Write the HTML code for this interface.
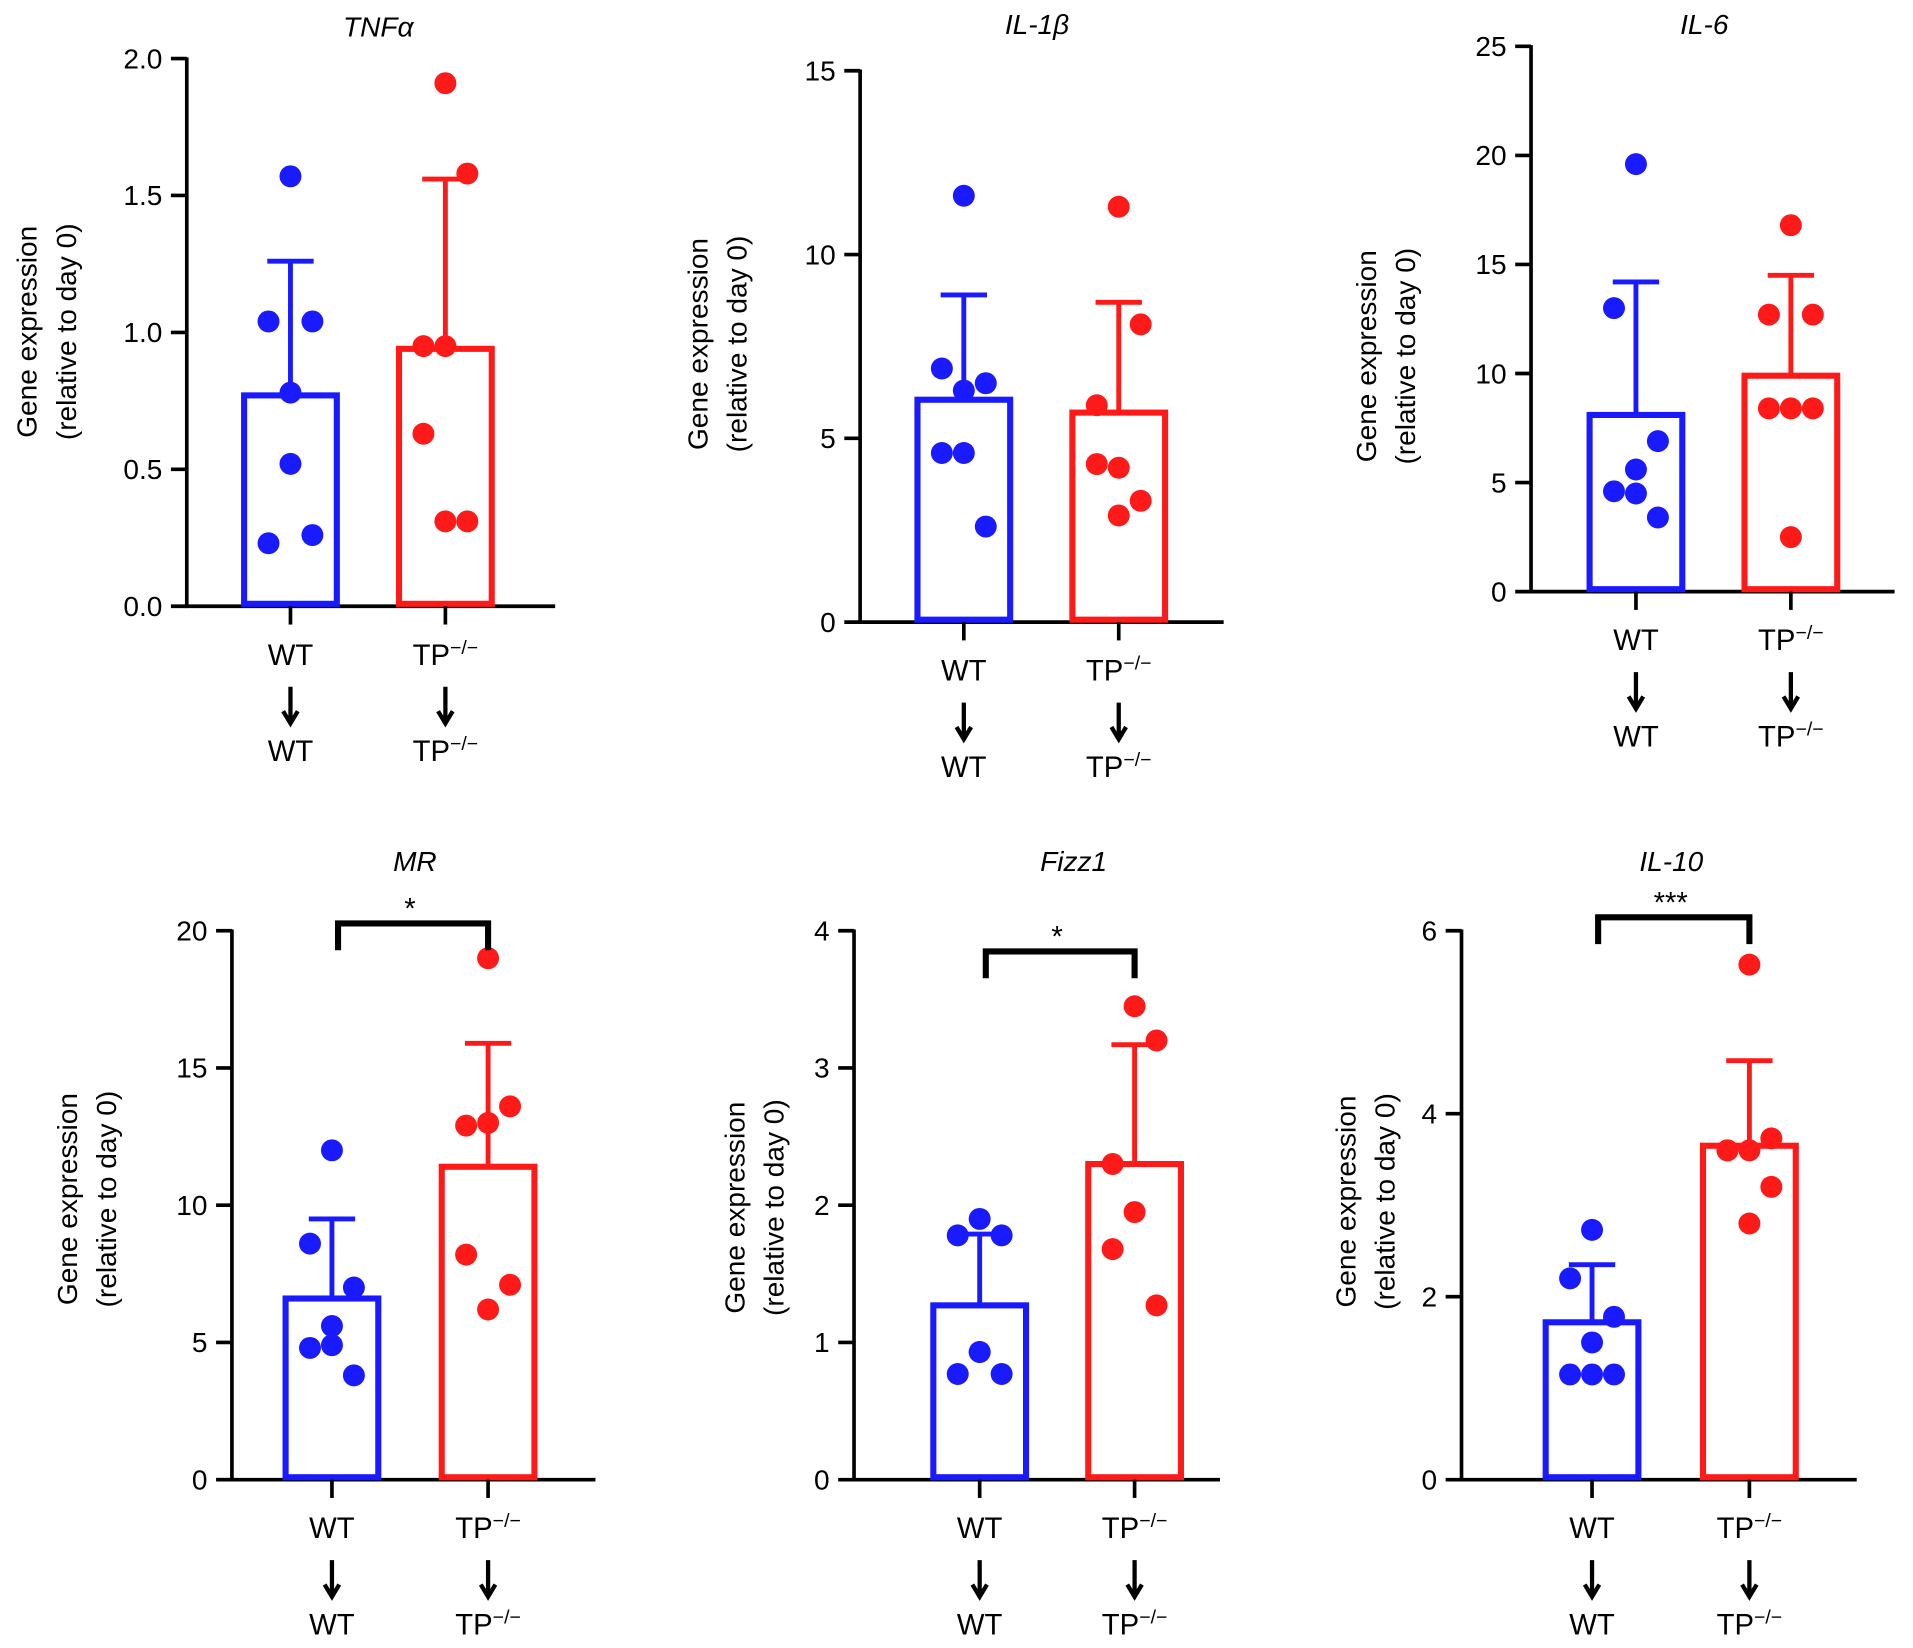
<!DOCTYPE html>
<html><head><meta charset="utf-8">
<style>
html,body{margin:0;padding:0;background:#fff;}
svg{display:block;font-family:"Liberation Sans",Arial,sans-serif;}
</style></head>
<body>
<svg id="chart" width="1913" height="1648" viewBox="0 0 1568 1351" xmlns="http://www.w3.org/2000/svg"></svg>
<script>
const panelTitles = ["TNFα","IL-1β","IL-6","MR","Fizz1","IL-10"];
const yMaxes = [2.0,15,25,20,4,6];
const yTickLabels = [["0.0","0.5","1.0","1.5","2.0"],["0","5","10","15"],["0","5","10","15","20","25"],["0","5","10","15","20"],["0","1","2","3","4"],["0","2","4","6"]];
const wtMeans = [0.77,6.05,8.1,6.6,1.27,1.72];
const wtSD = [1.26,8.9,14.2,9.5,1.79,2.35];
const tpMeans = [0.94,5.7,9.9,11.4,2.3,3.65];
const tpSD = [1.56,8.7,14.5,15.9,3.17,4.58];
const wtPoints = [
 [1.57,1.04,1.04,0.78,0.52,0.23,0.26],
 [11.6,6.9,6.5,6.3,4.6,4.6,2.6],
 [19.6,13.0,6.9,5.6,4.5,4.6,3.4],
 [12,8.6,7,5.6,4.9,4.8,3.8],
 [1.9,1.78,1.78,0.93,0.93,0.77,0.77],
 [2.73,2.2,1.78,1.5,1.15,1.15,1.15]];
const tpPoints = [
 [1.91,1.58,0.95,0.95,0.63,0.31,0.31],
 [11.3,8.1,5.9,4.2,4.3,3.3,2.9],
 [16.8,12.7,12.7,8.4,8.4,8.4,2.5],
 [19,13.6,12.9,13,8.2,7.1,6.2],
 [3.45,3.2,2.3,1.95,1.68,1.27],
 [5.63,3.73,3.6,3.6,3.6,3.2,2.8]];
const sigLabels = ["","","","*","*","***"];

// layout (not data)
const layout = [
 {ax:153,y0:497,yT:48,xEnd:455,c1:238,c2:365,tx:310,ty:22,lx:22,ly:272},
 {ax:705,y0:510,yT:58,xEnd:1003,c1:790,c2:917,tx:850,ty:20,lx:572,ly:282},
 {ax:1255,y0:485,yT:38,xEnd:1553,c1:1341,c2:1468,tx:1397,ty:20,lx:1120,ly:292},
 {ax:190,y0:1213,yT:763,xEnd:488,c1:272,c2:400,tx:340,ty:706,lx:55,ly:983,by:757},
 {ax:700,y0:1213,yT:763,xEnd:1000,c1:803,c2:930,tx:880,ty:706,lx:602,ly:990,by:780},
 {ax:1198,y0:1213,yT:763,xEnd:1522,c1:1305,c2:1434,tx:1370,ty:706,lx:1103,ly:985,by:752}];
const jit = [[0,-18,18,0,0,-18,18],[0,18,-18,0,-18,18,0]];

const svg = document.getElementById('chart');
const NS = "http://www.w3.org/2000/svg";
function mk(tag, attrs, parent){const e=document.createElementNS(NS,tag);for(const k in attrs)e.setAttribute(k,attrs[k]);(parent||svg).appendChild(e);return e;}

panelTitles.forEach((title,i)=>{
  const L = layout[i];
  const g = mk('g',{});
  
  
  const y = v => L.y0 - v/yMaxes[i]*(L.y0-L.yT);
  const ya = mk('line',{x1:L.ax,y1:L.y0,x2:L.ax,y2:L.yT-1,stroke:'#000','stroke-width':3},g);
  
  
  const xa = mk('line',{x1:L.ax-1.5,y1:L.y0,x2:L.xEnd,y2:L.y0,stroke:'#000','stroke-width':3},g);
  
  
  yTickLabels[i].forEach(lab=>{
    const v=parseFloat(lab), yy=y(v);
    mk('line',{x1:L.ax-13,y1:yy,x2:L.ax,y2:yy,stroke:'#000','stroke-width':3},g);
    const t=mk('text',{x:L.ax-20,y:yy+8,'text-anchor':'end','font-size':23},g);
    t.textContent=lab;
    
    
  });
  const tt=mk('text',{x:L.tx,y:L.ty+8,'text-anchor':'middle','font-size':23,'font-style':'italic'},g);
  tt.textContent=title;
  
  
  const yl=mk('text',{transform:`translate(${L.lx},${L.ly}) rotate(-90)`,'text-anchor':'middle','font-size':23},g);
  
  
  const s1=mk('tspan',{x:0,dy:8},yl); s1.textContent='Gene expression';
  const s2=mk('tspan',{x:0,dy:32},yl); s2.textContent='(relative to day 0)';
  const groups=[{c:L.c1,m:wtMeans[i],sd:wtSD[i],pts:wtPoints[i],col:'#1a1aff',name:'wt',lab:'WT'},
                {c:L.c2,m:tpMeans[i],sd:tpSD[i],pts:tpPoints[i],col:'#ff1a1a',name:'tp',lab:'TP'}];
  groups.forEach((G,gi)=>{
    const eb=mk('line',{x1:G.c,y1:y(G.m),x2:G.c,y2:y(G.sd),stroke:G.col,'stroke-width':4},g);
    
    
    mk('line',{x1:G.c-19,y1:y(G.sd),x2:G.c+19,y2:y(G.sd),stroke:G.col,'stroke-width':4},g);
    const b=mk('rect',{x:G.c-38,y:y(G.m),width:76,height:L.y0-y(G.m)-2,fill:'#fff',stroke:G.col,'stroke-width':5},g);
    
    
    G.pts.forEach((v,k)=>{
      const p=mk('circle',{cx:G.c+jit[gi][k%7],cy:y(v),r:9,fill:G.col},g);
      
      
    });
    mk('line',{x1:G.c,y1:L.y0,x2:G.c,y2:L.y0+15,stroke:'#000','stroke-width':3},g);
    const x1=mk('text',{x:G.c,y:L.y0+48,'text-anchor':'middle','font-size':24},g);
    
    
    x1.textContent=G.lab;
    if(gi==1){const sp=mk('tspan',{dy:-9,'font-size':16},x1);sp.textContent='−/−';}
    const ar=mk('path',{d:`M${G.c},${L.y0+66} V${L.y0+94} M${G.c-6},${L.y0+86} L${G.c},${L.y0+96} L${G.c+6},${L.y0+86}`,fill:'none',stroke:'#000','stroke-width':3.5},g);
    
    
    const x2=mk('text',{x:G.c,y:L.y0+127,'text-anchor':'middle','font-size':24},g);
    x2.textContent=G.lab;
    if(gi==1){const sp=mk('tspan',{dy:-9,'font-size':16},x2);sp.textContent='−/−';}
  });
  if(sigLabels[i]){
    const br=mk('path',{d:`M${L.c1+5},${L.by+22} V${L.by} H${L.c2} V${L.by+22}`,fill:'none',stroke:'#000','stroke-width':5},g);
    
    
    const st=mk('text',{x:(L.c1+L.c2)/2,y:L.by-4,'text-anchor':'middle','font-size':24},g);
    st.textContent=sigLabels[i];
    
    
  }
});
</script>
</body></html>
